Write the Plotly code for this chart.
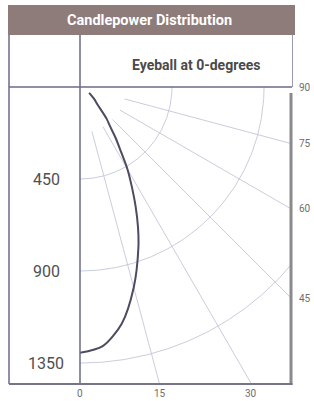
import math
import plotly.graph_objects as go

# ---- data ----
angles_deg = [0, 5, 10, 15, 20, 22.5, 25, 27.5, 30, 32.5, 35, 37.5, 40, 45, 50, 57.5]
candela = [1300, 1272, 1175, 1015, 835, 741, 643, 548, 464, 370, 303, 240, 202, 121, 90, 53]

ring_values = [450, 900, 1350]
ring_labels = ["450", "900", "1350"]
radial_angles = [15, 30, 45, 60, 75]
bottom_tick_angles = [0, 15, 30]
right_tick_angles = [45, 60, 75, 90]
radial_start = 225

title_text = "Candlepower Distribution"
subtitle_text = "Eyeball at 0-degrees"

# ---- layout geometry ----
W, H = 314, 401
L, R, T, B = 80, 291, 87, 384
PW, PH = R - L, B - T
scale = 0.2045  # px per candela
xmax = PW / scale
ymax = PH / scale

def px(x):
    return (x - L) / PW

def py(y):
    return (B - y) / PH

def to_xy(r, a):
    t = math.radians(a)
    return r * math.sin(t), -r * math.cos(t)

fig = go.Figure()

grid_col = "#c3c7d8"
# arcs
for rv in ring_values:
    xs, ys = [], []
    for i in range(0, 181):
        x, y = to_xy(rv, i * 0.5)
        xs.append(x); ys.append(y)
    fig.add_trace(go.Scatter(x=xs, y=ys, mode="lines",
                             line=dict(color=grid_col, width=0.9),
                             hoverinfo="skip", showlegend=False))
# radial lines
for a in radial_angles:
    x0, y0 = to_xy(radial_start, a)
    x1, y1 = to_xy(4000, a)
    fig.add_trace(go.Scatter(x=[x0, x1], y=[y0, y1], mode="lines",
                             line=dict(color=grid_col, width=0.9),
                             hoverinfo="skip", showlegend=False))

# candlepower curve
cx, cy = [], []
for a, c in zip(angles_deg, candela):
    x, y = to_xy(c, a)
    cx.append(x); cy.append(y)
fig.add_trace(go.Scatter(x=cx, y=cy, mode="lines",
                         line=dict(color="#4b4b62", width=2, shape="spline", smoothing=0.8),
                         showlegend=False))

font_stack = "Roboto, Arial, sans-serif"
annotations = []
# ring labels (left column)
for rv, lab in zip(ring_values, ring_labels):
    annotations.append(dict(x=px(46), xref="paper", y=-rv, yref="y", text=lab,
                            showarrow=False, xanchor="center", yanchor="middle",
                            font=dict(size=16, color="#505050", family=font_stack)))
# bottom angle labels
for a in bottom_tick_angles:
    x = ymax * math.tan(math.radians(a))
    annotations.append(dict(x=x, xref="x", y=py(393), yref="paper", text=str(a),
                            showarrow=False, xanchor="center", yanchor="middle",
                            font=dict(size=10, color="#6e6e6e", family=font_stack)))
# right angle labels
for a in right_tick_angles:
    y = -xmax / math.tan(math.radians(a)) if a != 90 else 0
    annotations.append(dict(x=px(305), xref="paper", y=y, yref="y", text=str(a),
                            showarrow=False, xanchor="center", yanchor="middle",
                            font=dict(size=10, color="#6e6e6e", family=font_stack)))
# header texts
annotations.append(dict(x=px(149), xref="paper", y=py(20), yref="paper",
                        text="<b>%s</b>" % title_text, showarrow=False,
                        xanchor="center", yanchor="middle",
                        font=dict(size=14.5, color="white", family=font_stack)))
annotations.append(dict(x=px(196), xref="paper", y=py(65), yref="paper",
                        text="<b>%s</b>" % subtitle_text, showarrow=False,
                        xanchor="center", yanchor="middle",
                        font=dict(size=14, color="#4a4a4a", family=font_stack)))

line_col = "#6a6a88"
shapes = [
    dict(type="rect", xref="paper", yref="paper", x0=px(8), x1=px(295), y0=py(35), y1=py(5),
         fillcolor="#8d7c7a", line=dict(width=0), layer="below"),
    dict(type="line", xref="paper", yref="paper", x0=px(9), x1=px(9), y0=py(35), y1=py(384),
         line=dict(color=line_col, width=1.5)),
    dict(type="line", xref="paper", yref="paper", x0=px(80), x1=px(80), y0=py(35), y1=py(384),
         line=dict(color=line_col, width=1.5)),
    dict(type="line", xref="paper", yref="paper", x0=px(9), x1=px(292), y0=py(87), y1=py(87),
         line=dict(color=line_col, width=1.5)),
    dict(type="line", xref="paper", yref="paper", x0=px(292.5), x1=px(292.5), y0=py(35), y1=py(87),
         line=dict(color="#9a9ab0", width=1)),
    dict(type="line", xref="paper", yref="paper", x0=px(291), x1=px(291), y0=py(93), y1=py(385),
         line=dict(color="#8a8a8e", width=3)),
    dict(type="line", xref="paper", yref="paper", x0=px(9), x1=px(292.5), y0=py(384), y1=py(384),
         line=dict(color="#74748a", width=2.2)),
]

fig.update_layout(
    width=W, height=H,
    margin=dict(l=L, r=W - R, t=T, b=H - B, pad=0),
    paper_bgcolor="white", plot_bgcolor="white",
    xaxis=dict(range=[0, xmax], visible=False, fixedrange=True),
    yaxis=dict(range=[-ymax, 0], visible=False, fixedrange=True),
    annotations=annotations, shapes=shapes, showlegend=False,
)

fig.write_html("out.html", config={"displayModeBar": False},
               post_script="document.body.style.margin='0';document.body.style.overflow='hidden';")
